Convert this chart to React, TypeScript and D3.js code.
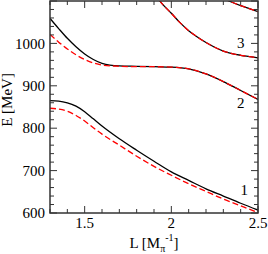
import React from 'react';
import * as d3 from 'd3';

// L grid (in 1/M_pi) used for the lower levels
const lLow = [1.3, 1.35, 1.4, 1.45, 1.5, 1.55, 1.6, 1.7, 1.8, 1.9, 2.0, 2.1, 2.2, 2.3, 2.4, 2.5];
const level1Full = [865, 864, 860, 852, 839, 822, 805, 775, 748, 722, 697, 677, 657, 640, 623, 607];
const level1Dash = [847, 845, 840, 830, 817, 801, 786, 760, 734, 710, 689, 669, 651, 633, 617, 601];
const level2Full = [1059, 1035, 1012, 992, 975, 962, 953, 947, 946, 945, 944, 940, 928, 910, 889, 868];
const level2Dash = [1021, 1003, 987, 973, 962, 954, 949, 946, 945, 945, 944, 940, 928, 910, 889, 868];

const lHigh3 = [1.9, 1.95, 2.0, 2.05, 2.1, 2.15, 2.2, 2.25, 2.3, 2.35, 2.4, 2.45, 2.5];
const level3 = [1118, 1092, 1071, 1049, 1030, 1015, 1002, 991, 982, 976, 972, 969, 966];
const lHigh4 = [2.3, 2.35, 2.4, 2.45, 2.5];
const level4 = [1106, 1097, 1089, 1082, 1075];

const xTicks = [1.5, 2, 2.5];
const yTicks = [600, 700, 800, 900, 1000];
const levelLabels = [
  { text: '1', L: 2.42, E: 654 },
  { text: '2', L: 2.4, E: 859 },
  { text: '3', L: 2.4, E: 1001 },
];

const W = 268, H = 254;
const m = { left: 50, right: 10, top: 1, bottom: 41 };
const font = "'Liberation Serif', 'Times New Roman', Times, serif";

export default function App() {
  const x = d3.scaleLinear().domain([1.3, 2.5]).range([m.left, W - m.right]);
  const y = d3.scaleLinear().domain([600, 1100]).range([H - m.bottom, m.top]);

  const line = (ls: number[], es: number[]) =>
    d3.line<number>()
      .x((_, i) => x(ls[i]))
      .y((e) => y(e))
      .curve(d3.curveMonotoneX)(es) as string;

  const xMinor = d3.range(13, 26).map((v) => v / 10);
  const yMinor = d3.range(600, 1101, 20);
  const x0 = m.left, x1 = W - m.right, y0 = H - m.bottom, y1 = m.top;

  const solid = [line(lLow, level1Full), line(lLow, level2Full), line(lHigh3, level3), line(lHigh4, level4)];
  const dashed = [line(lLow, level1Dash), line(lLow, level2Dash), line(lHigh3, level3), line(lHigh4, level4)];

  return (
    <svg width={W} height={H} style={{ position: 'absolute', left: 0, top: 0, background: '#fff', fontFamily: font }}>
      <defs>
        <clipPath id="plotClip">
          <rect x={x0} y={y1} width={x1 - x0} height={y0 - y1} />
        </clipPath>
      </defs>
      <g clipPath="url(#plotClip)" fill="none">
        {solid.map((d, i) => (
          <path key={'s' + i} d={d} stroke="#000" strokeWidth={1.3} />
        ))}
        {dashed.map((d, i) => (
          <path key={'d' + i} d={d} stroke="#ff0000" strokeWidth={1.3} strokeDasharray="6,3" />
        ))}
      </g>
      {/* ticks on all sides, pointing inward */}
      <g stroke="#333" strokeWidth={1}>
        {xMinor.map((v) => {
          const major = xTicks.some((t) => Math.abs(t - v) < 1e-6);
          const len = major ? 7 : 4;
          return (
            <g key={'xt' + v}>
              <line x1={x(v)} x2={x(v)} y1={y0} y2={y0 - len} />
              <line x1={x(v)} x2={x(v)} y1={y1} y2={y1 + len} />
            </g>
          );
        })}
        {yMinor.map((v) => {
          const len = v % 100 === 0 ? 7 : 4;
          return (
            <g key={'yt' + v}>
              <line x1={x0} x2={x0 + len} y1={y(v)} y2={y(v)} />
              <line x1={x1} x2={x1 - len} y1={y(v)} y2={y(v)} />
            </g>
          );
        })}
      </g>
      <rect x={x0} y={y1} width={x1 - x0} height={y0 - y1} fill="none" stroke="#333" strokeWidth={1.5} />
      <g fontSize={15} fill="#000" style={{ fontFamily: font }}>
        {xTicks.map((t) => (
          <text key={'xl' + t} x={x(t)} y={228} textAnchor="middle">{t}</text>
        ))}
        {yTicks.map((t) => (
          <text key={'yl' + t} x={45} y={y(t)} dy="0.35em" textAnchor="end">{t}</text>
        ))}
        {levelLabels.map((l) => (
          <text key={'lv' + l.text} x={x(l.L)} y={y(l.E)} dy="0.35em" textAnchor="middle">{l.text}</text>
        ))}
        <text x={154} y={248} textAnchor="middle">
          L [M<tspan fontSize={10} dy={4}>π</tspan>
          <tspan fontSize={10} dy={-11}>-1</tspan>
          <tspan dy={7}>]</tspan>
        </text>
        <text transform="translate(12,100) rotate(-90)" textAnchor="middle">E [MeV]</text>
      </g>
    </svg>
  );
}
